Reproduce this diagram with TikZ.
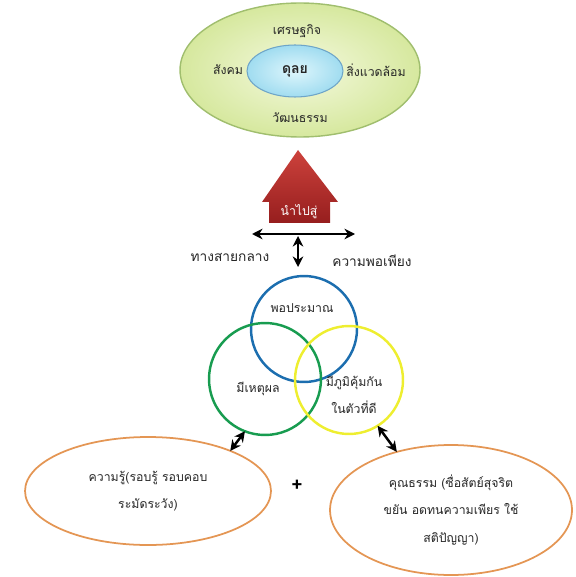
\documentclass[tikz,border=0pt]{standalone}
\usepackage{fontspec}
\newfontfamily\thai[Script=Thai]{Loma}
\usetikzlibrary{arrows.meta,positioning,shapes.geometric}
\definecolor{worldin}{RGB}{244,249,222}
\definecolor{worldout}{RGB}{214,232,158}
\definecolor{worldline}{RGB}{160,190,110}
\definecolor{balin}{RGB}{222,246,252}
\definecolor{balout}{RGB}{160,220,240}
\definecolor{balline}{RGB}{110,165,200}
\definecolor{arrowtop}{RGB}{205,66,60}
\definecolor{arrowbot}{RGB}{150,30,30}
\definecolor{ringblue}{RGB}{28,110,175}
\definecolor{ringgreen}{RGB}{24,156,80}
\definecolor{ringyellow}{RGB}{238,238,48}
\definecolor{rimorange}{RGB}{228,150,84}
\tikzset{
  % ข้อความภาษาไทย
  every node/.append style={font=\thai\fontsize{7}{15.5}\selectfont, text=black!85},
  % ป้ายข้างลูกศร
  side/.style={font=\thai\fontsize{7.8}{9}\selectfont},
  % วงรีใหญ่ด้านบน
  world/.style={ellipse, draw=worldline, line width=0.8pt,
    inner color=worldin, outer color=worldout,
    minimum width=4.8cm, minimum height=2.68cm, inner sep=0pt, outer sep=0pt},
  % วงรีตรงกลาง
  balance/.style={ellipse, draw=balline, line width=0.6pt,
    inner color=balin, outer color=balout,
    minimum width=1.92cm, minimum height=1.04cm, inner sep=0pt, outer sep=0pt},
  % วงกลมสามห่วง
  ring/.style={circle, line width=1.4pt, inner sep=0pt, outer sep=0pt},
  % วงรีสีส้มด้านล่าง
  rim/.style={ellipse, draw=rimorange, line width=1pt, inner sep=0pt,
    outer sep=0pt, align=center},
  % ลูกศรสองทาง
  dbl/.style={{Stealth[length=6pt,width=6pt]}-{Stealth[length=6pt,width=6pt]},
    line width=1.4pt, black},
}
\begin{document}
\begin{tikzpicture}[x=0.02cm, y=-0.02cm]
  \useasboundingbox (0,0) rectangle (575,577);

  % เศรษฐกิจพอเพียง -> ดุลย
  \node[world] (world) at (300,70) {};
  \node[balance, font=\thai\bfseries\fontsize{8}{9}\selectfont] (balance) at (295,71) {ดุลย};
  \node (econ) at (297,31) {เศรษฐกิจ};
  \node (society) at (228,70) {สังคม};
  \node (environ) at (376,70) {สิ่งแวดล้อม};
  \node (culture) at (300,118) {วัฒนธรรม};

  % ลูกศรใหญ่สีแดง
  \shade[top color=arrowtop, bottom color=arrowbot] (298,150) -- (338,202)
    -- (330,202) -- (330,223) -- (269,223) -- (269,202) -- (262,202) -- cycle;
  \node[text=white] (lead) at (299,212) {นำไปสู่};

  % ทางสายกลาง
  \coordinate (midl) at (252,234);
  \coordinate (midr) at (355,234);
  \coordinate (midt) at (298,236);
  \coordinate (midb) at (298,267);
  \draw[dbl] (midl) -- (midr);
  \draw[dbl] (midt) -- (midb);
  \node[side] (middle) at (230,257) {ทางสายกลาง};
  \node[side] (suff) at (372,261) {ความพอเพียง};

  % สามห่วง
  \node[ring, draw=ringblue, minimum size=2.12cm] (moder) at (304,329) {};
  \node[ring, draw=ringgreen, minimum size=2.24cm] (reason) at (265,379) {};
  \node[ring, draw=ringyellow, minimum size=2.16cm] (immune) at (349,380) {};
  \node (modert) at (302,308) {พอประมาณ};
  \node (reasont) at (258,389) {มีเหตุผล};
  \node[align=center] (immunet) at (354,395) {มีภูมิคุ้มกัน\\ในตัวที่ดี};

  % สองเงื่อนไข
  \node[rim, minimum width=4.92cm, minimum height=2.16cm] (know) at (148,491)
    {ความรู้(รอบรู้ รอบคอบ\\ระมัดระวัง)};
  \node[rim, minimum width=4.84cm, minimum height=2.6cm] (moral) at (451,510)
    {คุณธรรม (ซื่อสัตย์สุจริต\\ขยัน อดทนความเพียร ใช้\\สติปัญญา)};
  \node[font=\thai\bfseries\fontsize{11}{11}\selectfont, text=black] (plus) at (297,486) {+};

  \draw[dbl] (reason.-111) -- (know.26);
  \draw[dbl] (immune.-58) -- (moral.133);
\end{tikzpicture}
\end{document}
